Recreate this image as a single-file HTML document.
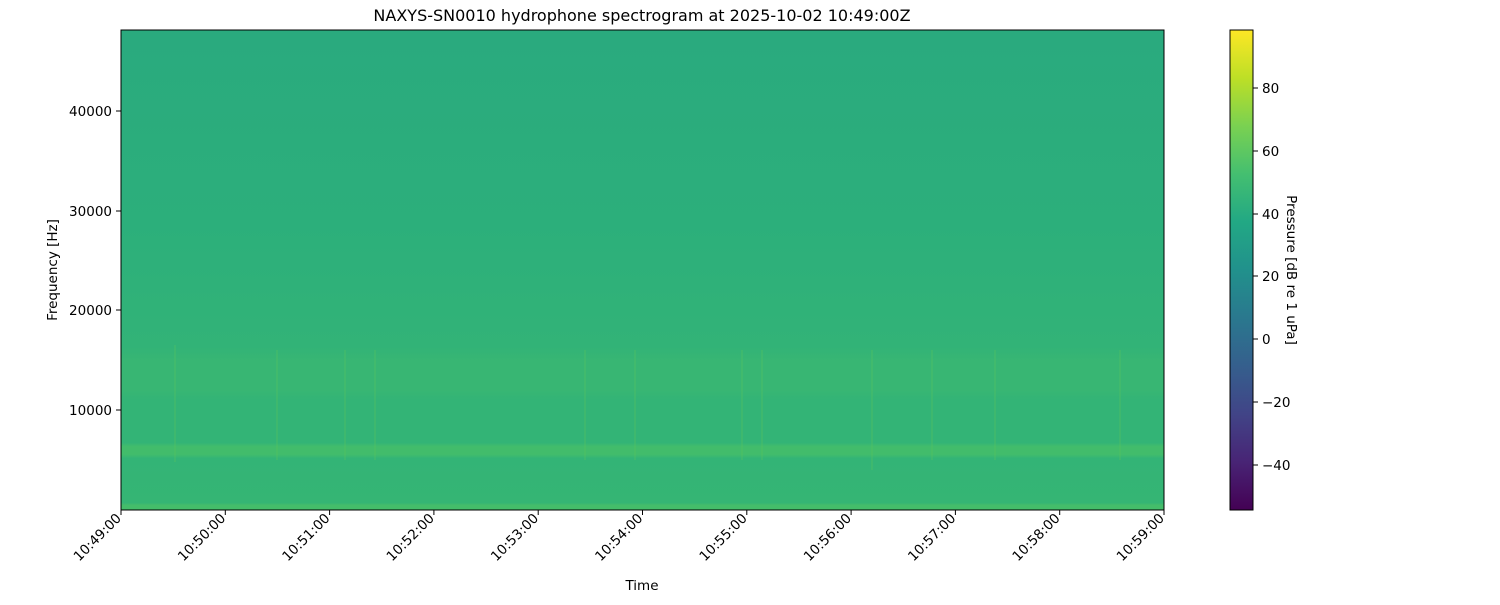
<!DOCTYPE html>
<html><head><meta charset="utf-8"><style>
body{margin:0;background:#fff;font-family:"Liberation Sans","DejaVu Sans",sans-serif;}
svg text{font-family:"DejaVu Sans","Liberation Sans",sans-serif;font-size:13.5px;fill:#000}
</style></head><body>
<svg width="1500" height="600" xmlns="http://www.w3.org/2000/svg">
<defs>
<linearGradient id="bg" x1="0" y1="0" x2="0" y2="1">
<stop offset="0" stop-color="#2aaa7e"/>
<stop offset="0.4" stop-color="#2caf7b"/>
<stop offset="0.66" stop-color="#32b377"/>
<stop offset="0.69" stop-color="#38b673"/>
<stop offset="0.75" stop-color="#38b673"/>
<stop offset="0.77" stop-color="#33b476"/>
<stop offset="0.86" stop-color="#33b476"/>
<stop offset="0.868" stop-color="#42bc6b"/>
<stop offset="0.884" stop-color="#42bc6b"/>
<stop offset="0.892" stop-color="#33b476"/>
<stop offset="0.985" stop-color="#35b574"/>
<stop offset="0.99" stop-color="#44bd6a"/>
<stop offset="1" stop-color="#44bd6a"/>
</linearGradient>
<linearGradient id="cb" x1="0" y1="1" x2="0" y2="0">
<stop offset="0" stop-color="#440154"/><stop offset="0.1" stop-color="#482475"/>
<stop offset="0.2" stop-color="#414487"/><stop offset="0.3" stop-color="#355f8d"/>
<stop offset="0.4" stop-color="#2a788e"/><stop offset="0.5" stop-color="#21918c"/>
<stop offset="0.6" stop-color="#22a884"/><stop offset="0.7" stop-color="#44bf70"/>
<stop offset="0.8" stop-color="#7ad151"/><stop offset="0.9" stop-color="#bddf26"/>
<stop offset="1" stop-color="#fde725"/>
</linearGradient>
</defs>
<text x="642" y="21" text-anchor="middle" style="font-size:16px">NAXYS-SN0010 hydrophone spectrogram at 2025-10-02 10:49:00Z</text>
<rect x="121" y="30" width="1043" height="480" fill="url(#bg)"/>
<g stroke="#5cc65c" stroke-opacity="0.35" stroke-width="1.5">
<line x1="175" y1="345" x2="175" y2="462"/><line x1="277" y1="350" x2="277" y2="460"/>
<line x1="345" y1="350" x2="345" y2="460"/><line x1="375" y1="350" x2="375" y2="460"/>
<line x1="635" y1="350" x2="635" y2="460"/><line x1="742" y1="350" x2="742" y2="460"/>
<line x1="762" y1="350" x2="762" y2="460"/><line x1="872" y1="350" x2="872" y2="470"/>
<line x1="932" y1="350" x2="932" y2="460"/><line x1="995" y1="350" x2="995" y2="460"/>
<line x1="1120" y1="350" x2="1120" y2="460"/><line x1="585" y1="350" x2="585" y2="460"/>
</g>
<rect x="121" y="30" width="1043" height="480" fill="none" stroke="#000"/>
<g stroke="#000">
<line x1="121" y1="111" x2="116" y2="111"/><line x1="121" y1="211" x2="116" y2="211"/>
<line x1="121" y1="310" x2="116" y2="310"/><line x1="121" y1="410" x2="116" y2="410"/>
</g>
<g text-anchor="end">
<text x="112" y="116">40000</text><text x="112" y="216">30000</text>
<text x="112" y="315">20000</text><text x="112" y="415">10000</text>
</g>
<text transform="translate(57,270) rotate(-90)" text-anchor="middle">Frequency [Hz]</text>
<g stroke="#000">
<line x1="121" y1="510" x2="121" y2="515"/><line x1="225.3" y1="510" x2="225.3" y2="515"/>
<line x1="329.6" y1="510" x2="329.6" y2="515"/><line x1="433.9" y1="510" x2="433.9" y2="515"/>
<line x1="538.2" y1="510" x2="538.2" y2="515"/><line x1="642.5" y1="510" x2="642.5" y2="515"/>
<line x1="746.8" y1="510" x2="746.8" y2="515"/><line x1="851.1" y1="510" x2="851.1" y2="515"/>
<line x1="955.4" y1="510" x2="955.4" y2="515"/><line x1="1059.7" y1="510" x2="1059.7" y2="515"/>
<line x1="1164" y1="510" x2="1164" y2="515"/>
</g>
<g text-anchor="end">
<text transform="translate(122,519) rotate(-45)">10:49:00</text>
<text transform="translate(226.3,519) rotate(-45)">10:50:00</text>
<text transform="translate(330.6,519) rotate(-45)">10:51:00</text>
<text transform="translate(434.9,519) rotate(-45)">10:52:00</text>
<text transform="translate(539.2,519) rotate(-45)">10:53:00</text>
<text transform="translate(643.5,519) rotate(-45)">10:54:00</text>
<text transform="translate(747.8,519) rotate(-45)">10:55:00</text>
<text transform="translate(852.1,519) rotate(-45)">10:56:00</text>
<text transform="translate(956.4,519) rotate(-45)">10:57:00</text>
<text transform="translate(1060.7,519) rotate(-45)">10:58:00</text>
<text transform="translate(1165,519) rotate(-45)">10:59:00</text>
</g>
<text x="642" y="590" text-anchor="middle">Time</text>
<rect x="1230" y="30" width="23" height="480" fill="url(#cb)" stroke="#000"/>
<g stroke="#000">
<line x1="1253" y1="88" x2="1258" y2="88"/><line x1="1253" y1="151" x2="1258" y2="151"/>
<line x1="1253" y1="214" x2="1258" y2="214"/><line x1="1253" y1="276" x2="1258" y2="276"/>
<line x1="1253" y1="339" x2="1258" y2="339"/><line x1="1253" y1="402" x2="1258" y2="402"/>
<line x1="1253" y1="465" x2="1258" y2="465"/>
</g>
<g>
<text x="1262" y="93">80</text><text x="1262" y="156">60</text><text x="1262" y="219">40</text>
<text x="1262" y="281">20</text><text x="1262" y="344">0</text><text x="1262" y="407">−20</text>
<text x="1262" y="470">−40</text>
</g>
<text transform="translate(1287,270) rotate(90)" text-anchor="middle">Pressure [dB re 1 uPa]</text>
</svg>
</body></html>
